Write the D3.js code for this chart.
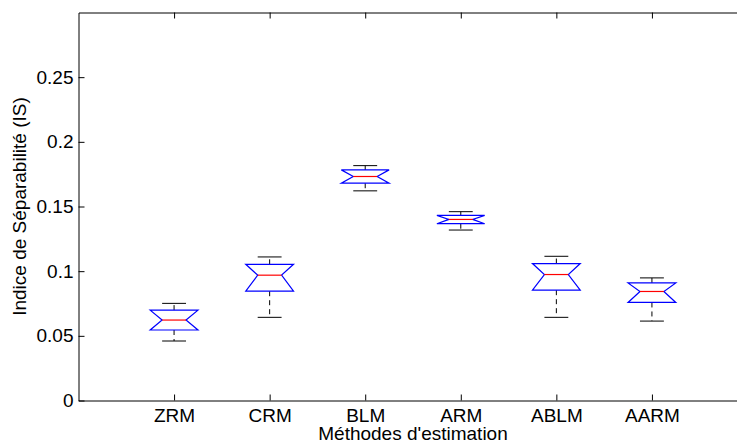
<!DOCTYPE html>
<html>
<head>
<meta charset="utf-8">
<script src="https://cdn.jsdelivr.net/npm/d3@7"></script>
<style>
  html, body { margin: 0; padding: 0; background: #fff; }
  svg { display: block; overflow: hidden; }
  text { font-family: "Liberation Sans", Arial, Helvetica, sans-serif; fill: #000; }
</style>
</head>
<body>
<svg id="chart" width="737" height="443"></svg>
<script>
// ─── Data ────────────────────────────────────────────────────────
const methods      = ['ZRM', 'CRM', 'BLM', 'ARM', 'ABLM', 'AARM'];
const lowerWhisker = [0.0460, 0.0643, 0.1621, 0.1318, 0.0643, 0.0614];
const q1           = [0.0545, 0.0845, 0.1680, 0.1367, 0.0853, 0.0758];
const medians      = [0.0622, 0.0969, 0.1732, 0.1400, 0.0974, 0.0843];
const q3           = [0.0699, 0.1053, 0.1783, 0.1431, 0.1059, 0.0909];
const upperWhisker = [0.0751, 0.1110, 0.1816, 0.1460, 0.1115, 0.0948];
const yTicks       = [0, 0.05, 0.1, 0.15, 0.2, 0.25];

const xLabel = "Méthodes d'estimation";
const yLabel = 'Indice de Séparabilité (IS)';

// ─── Layout ─────────────────────────────────────────────────────
const svg = d3.select('#chart');
const plotLeft = 78.5, plotTop = 12.5, plotBottom = 400.5, plotRight = 747.5;

const x = d3.scaleLinear().domain([0, 7]).range([plotLeft, plotRight]);
const y = d3.scaleLinear().domain([0, 0.3]).range([plotBottom, plotTop]);

const boxHalf = x(0.25) - x(0);     // box width 0.5
const notchHalf = boxHalf / 2;       // notch / cap width 0.25

// ── Axes (MATLAB style: ticks pointing inward) ──────────────────
const yAxis = d3.axisLeft(y)
    .tickValues(yTicks)
    .tickFormat(d => String(d))
    .tickSizeInner(-6)
    .tickSizeOuter(0)
    .tickPadding(5);

const xAxis = d3.axisBottom(x)
    .tickValues(d3.range(1, methods.length + 1))
    .tickFormat(d => methods[d - 1])
    .tickSizeInner(-6)
    .tickSizeOuter(0)
    .tickPadding(8);

const xTop = d3.axisTop(x)
    .tickValues(d3.range(1, methods.length + 1))
    .tickFormat('')
    .tickSizeInner(-6)
    .tickSizeOuter(0);

const gy = svg.append('g').attr('transform', `translate(${plotLeft},0)`).call(yAxis);
const gx = svg.append('g').attr('transform', `translate(0,${plotBottom})`).call(xAxis);
const gt = svg.append('g').attr('transform', `translate(0,${plotTop})`).call(xTop);

[gy, gx, gt].forEach(g => {
    g.selectAll('path.domain').attr('stroke', '#000').attr('stroke-width', 1);
    g.selectAll('.tick line').attr('stroke', '#000').attr('stroke-width', 1);
    g.selectAll('.tick text').style('font-size', '19px').attr('fill', '#000');
});

// ── Boxes ───────────────────────────────────────────────────────
const plot = svg.append('g');
const line = d3.line();

methods.forEach((m, i) => {
    const cx = x(i + 1);
    const yq1 = y(q1[i]), yq3 = y(q3[i]), ym = y(medians[i]);

    // whiskers (dashed) and caps
    plot.append('line')
        .attr('x1', cx).attr('x2', cx)
        .attr('y1', yq3).attr('y2', y(upperWhisker[i]))
        .attr('stroke', '#000').attr('stroke-dasharray', '5,4');
    plot.append('line')
        .attr('x1', cx).attr('x2', cx)
        .attr('y1', yq1).attr('y2', y(lowerWhisker[i]))
        .attr('stroke', '#000').attr('stroke-dasharray', '5,4');
    [upperWhisker[i], lowerWhisker[i]].forEach(v => {
        plot.append('line')
            .attr('x1', cx - notchHalf).attr('x2', cx + notchHalf)
            .attr('y1', y(v)).attr('y2', y(v))
            .attr('stroke', '#000');
    });

    // notched box (notch reaches the box ends)
    const pts = [
        [cx - boxHalf, yq3], [cx + boxHalf, yq3],
        [cx + notchHalf, ym],
        [cx + boxHalf, yq1], [cx - boxHalf, yq1],
        [cx - notchHalf, ym]
    ];
    plot.append('path')
        .attr('d', line(pts) + 'Z')
        .attr('fill', 'none')
        .attr('stroke', '#0000ff')
        .attr('stroke-width', 1.2);

    // median
    plot.append('line')
        .attr('x1', cx - notchHalf).attr('x2', cx + notchHalf)
        .attr('y1', ym).attr('y2', ym)
        .attr('stroke', '#ff0000')
        .attr('stroke-width', 1.2);
});

// ── Axis labels ─────────────────────────────────────────────────
svg.append('text')
    .attr('x', (plotLeft + plotRight) / 2).attr('y', 440)
    .attr('text-anchor', 'middle')
    .style('font-size', '19px')
    .text(xLabel);

svg.append('text')
    .attr('transform', `translate(26,${(plotTop + plotBottom) / 2}) rotate(-90)`)
    .attr('text-anchor', 'middle')
    .style('font-size', '19px')
    .text(yLabel);
</script>
</body>
</html>
